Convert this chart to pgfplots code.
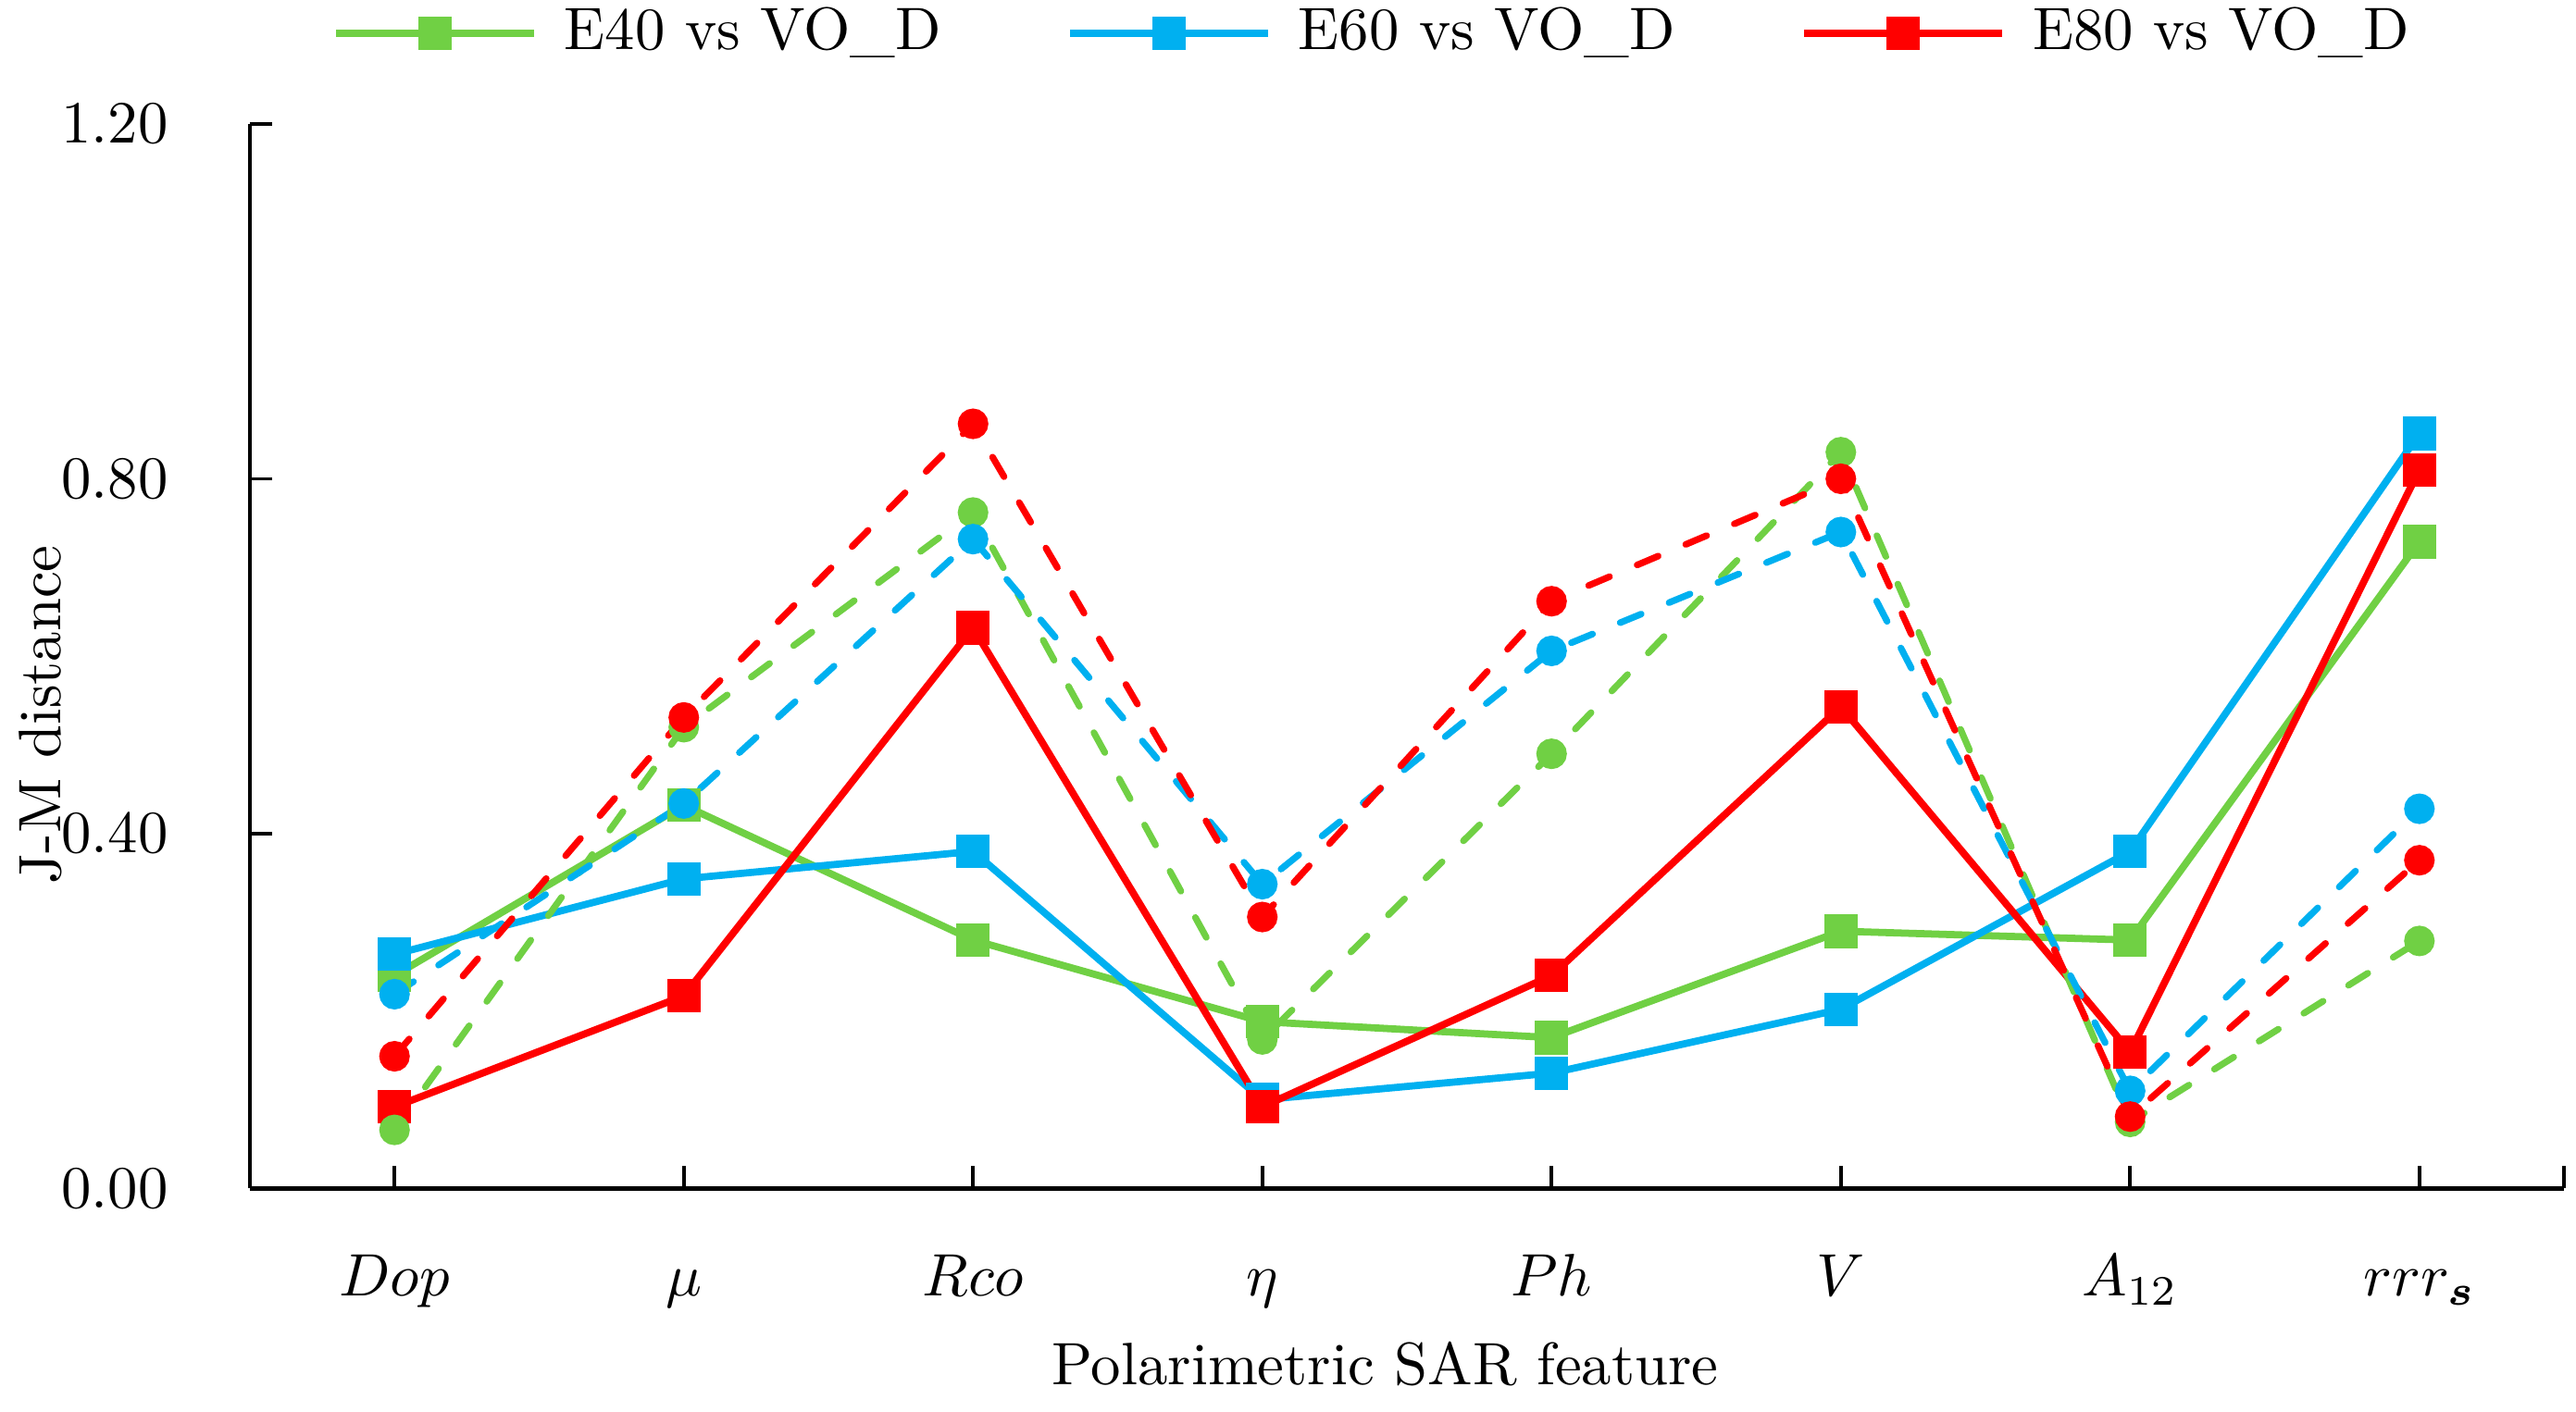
\documentclass[border=0pt]{standalone}
\usepackage{pgfplots}
\pgfplotsset{compat=1.18}
\usepackage{amsmath}

\definecolor{cGreen}{RGB}{112,208,68}
\definecolor{cBlue}{RGB}{0,176,240}
\definecolor{cRed}{RGB}{255,0,0}

% J-M distances per feature: solid = squares, dashed = circles
\pgfplotstableread{
x  g   b   r   gd   bd   rd
0  0.240 0.264 0.092 0.066 0.219 0.149
1  0.432 0.349 0.217 0.520 0.434 0.531
2  0.280 0.380 0.632 0.762 0.732 0.862
3  0.188 0.100 0.092 0.168 0.343 0.306
4  0.170 0.130 0.240 0.490 0.606 0.662
5  0.290 0.202 0.543 0.830 0.740 0.800
6  0.280 0.380 0.154 0.075 0.110 0.081
7  0.729 0.851 0.810 0.279 0.428 0.370
}\jmdata

\tikzset{dashedjm/.style={line width=1.1pt, line cap=round, dash pattern=on 3.8pt off 5pt}}

\begin{document}
\begin{tikzpicture}
\begin{axis}[
  scale only axis,
  width=386.2pt, height=177.7pt,
  xmin=-0.5, xmax=7.5, ymin=0, ymax=1.2,
  axis lines=left,
  axis line style={-, line width=0.75pt},
  xtick={0,...,7},
  xticklabels={$Dop$, $\mu$, $Rco$, $\eta$, $Ph$, $V$, $A_{12}$, $rrr_{\boldsymbol{s}}$},
  extra x ticks={7.5}, extra x tick labels={},
  ytick={0,0.4,0.8,1.2},
  tick align=inside,
  major tick length=3.7pt,
  tick style={black, line width=0.6pt},
  xticklabel style={anchor=base, yshift=-18pt},
  yticklabel style={/pgf/number format/fixed, /pgf/number format/fixed zerofill,
                    /pgf/number format/precision=2, anchor=east, xshift=-10.1pt},
  xlabel={Polarimetric SAR feature},
  xlabel style={at={(axis description cs:0.4906,0)}, anchor=base, yshift=-32.8pt},
  ylabel={J-M distance},
  ylabel style={at={(axis description cs:-0.0816,0.445)}, anchor=base},
  legend columns=3,
  legend style={draw=none, fill=none, at={(axis description cs:0.487,1.0855)}, anchor=center,
                /tikz/every even column/.append style={column sep=19pt}},
  legend image code/.code={
    \draw[mark repeat=2, mark phase=2, #1] plot coordinates {(0pt,0pt) (16.5pt,0pt) (33pt,0pt)};
    \path (35.5pt,0pt);
  },
]
\addplot[cGreen, line width=1.2pt, mark=square*, mark size=2.2pt, mark options={solid}] table[x=x, y=g] {\jmdata};
\addlegendentry{E40 vs VO\_D}
\addplot[cBlue, line width=1.2pt, mark=square*, mark size=2.2pt, mark options={solid}] table[x=x, y=b] {\jmdata};
\addlegendentry{E60 vs VO\_D}
\addplot[cRed, line width=1.2pt, mark=square*, mark size=2.2pt, mark options={solid}] table[x=x, y=r] {\jmdata};
\addlegendentry{E80 vs VO\_D}

\addplot[cGreen, dashedjm, mark=*, mark size=2.0pt, mark options={solid}, forget plot] table[x=x, y=gd] {\jmdata};
\addplot[cBlue, dashedjm, mark=*, mark size=2.0pt, mark options={solid}, forget plot] table[x=x, y=bd] {\jmdata};
\addplot[cRed, dashedjm, mark=*, mark size=2.0pt, mark options={solid}, forget plot] table[x=x, y=rd] {\jmdata};
\end{axis}
\pgfresetboundingbox
\useasboundingbox (-41.7pt,-37.2pt) rectangle (388.2pt,198.4pt);
\end{tikzpicture}
\end{document}
